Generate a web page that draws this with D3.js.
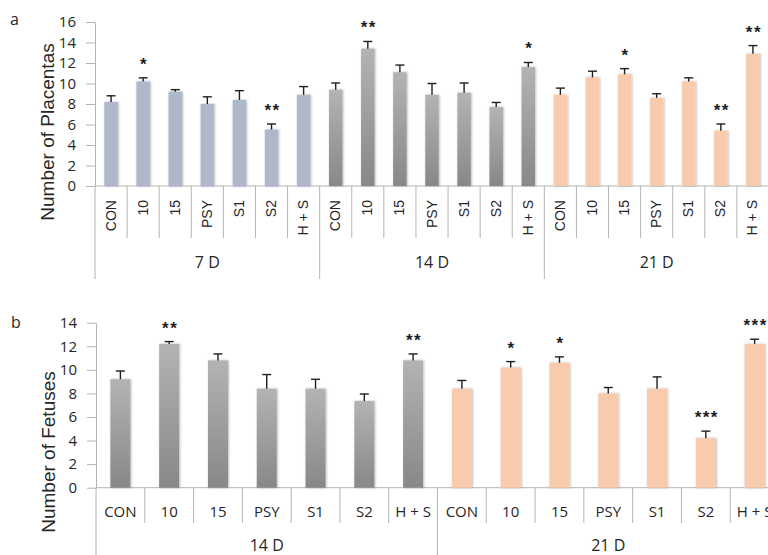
<!DOCTYPE html>
<html>
<head>
<meta charset="utf-8">
<script src="https://cdn.jsdelivr.net/npm/d3@7"></script>
<style>
  html, body { margin: 0; padding: 0; background: #fff; }
  svg { display: block; }
</style>
</head>
<body>
<svg id="chart" width="768" height="555"></svg>
<script>
// ---- data ----
const treatments = ["CON", "10", "15", "PSY", "S1", "S2", "H + S"];

// (a) placentas: 7 D, 14 D, 21 D
const placentaGroups = ["7 D", "14 D", "21 D"];
const placentaMean = [8.2, 10.2, 9.2, 8.0, 8.4, 5.5, 8.9,
                      9.4, 13.4, 11.1, 8.9, 9.1, 7.7, 11.6,
                      8.9, 10.6, 10.9, 8.6, 10.2, 5.4, 12.9];
const placentaErr  = [0.6, 0.35, 0.2, 0.7, 0.9, 0.55, 0.8,
                      0.65, 0.7, 0.7, 1.1, 0.95, 0.45, 0.45,
                      0.65, 0.6, 0.55, 0.4, 0.35, 0.65, 0.8];
const placentaSig  = ["", "*", "", "", "", "**", "",
                      "", "**", "", "", "", "", "*",
                      "", "", "*", "", "", "**", "**"];
const placentaTicks = [0, 2, 4, 6, 8, 10, 12, 14, 16];

// (b) fetuses: 14 D, 21 D
const fetusGroups = ["14 D", "21 D"];
const fetusMean = [9.2, 12.2, 10.8, 8.4, 8.4, 7.35, 10.8,
                   8.4, 10.2, 10.6, 8.0, 8.4, 4.2, 12.2];
const fetusErr  = [0.7, 0.2, 0.55, 1.2, 0.8, 0.6, 0.55,
                   0.7, 0.5, 0.5, 0.5, 1.0, 0.6, 0.4];
const fetusSig  = ["", "**", "", "", "", "", "**",
                   "", "*", "*", "", "", "***", "***"];
const fetusTicks = [0, 2, 4, 6, 8, 10, 12, 14];

// ---- styles ----
const groupFill = {
  "7 D": "#adb9ca",
  "14 D": "url(#greyGrad)",
  "21 D": "#f8cbad"
};
const axisColor = "#b4b4b4";
const textColor = "#262626";
const uiFont = "'Open Sans', 'Liberation Sans', sans-serif";
const rotFont = "'Liberation Sans', Arial, sans-serif";

const svg = d3.select("#chart");
const defs = svg.append("defs");
const grad = defs.append("linearGradient").attr("id", "greyGrad")
  .attr("x1", 0).attr("y1", 0).attr("x2", 0).attr("y2", 1);
grad.append("stop").attr("offset", "0%").attr("stop-color", "#b3b3b3");
grad.append("stop").attr("offset", "100%").attr("stop-color", "#888888");

const shadow = defs.append("filter").attr("id", "soft")
  .attr("x", "-40%").attr("y", "-10%").attr("width", "180%").attr("height", "120%");
shadow.append("feDropShadow").attr("dx", 0.8).attr("dy", 0)
  .attr("stdDeviation", 1.1).attr("flood-color", "#000").attr("flood-opacity", 0.3);

function drawPanel(cfg) {
  const n = cfg.mean.length;
  const perGroup = treatments.length;
  const rows = d3.range(n).map(i => ({
    id: i,
    group: cfg.groups[Math.floor(i / perGroup)],
    treatment: treatments[i % perGroup],
    mean: cfg.mean[i],
    err: cfg.err[i],
    sig: cfg.sig[i]
  }));

  const slot = d3.scaleBand().domain(d3.range(n)).range([cfg.x0, cfg.x1]).padding(0);
  const bar = d3.scaleBand().domain(d3.range(n)).range([cfg.x0, cfg.x1])
    .paddingInner(cfg.gap).paddingOuter(cfg.gap / 2);
  const y = d3.scaleLinear().domain([0, cfg.yMax]).range([cfg.yBase, cfg.yTop]);

  const g = svg.append("g");

  // y axis
  const yAxis = d3.axisLeft(y).tickValues(cfg.ticks).tickSize(9).tickSizeOuter(0).tickPadding(10);
  const ya = g.append("g").attr("transform", `translate(${cfg.x0},0)`).call(yAxis);
  ya.select(".domain").attr("stroke", axisColor);
  ya.selectAll(".tick line").attr("stroke", axisColor);
  ya.selectAll(".tick text").attr("fill", textColor)
    .style("font-family", uiFont).style("font-size", "15px");

  // x axis line
  g.append("line").attr("x1", cfg.x0).attr("x2", cfg.x1)
    .attr("y1", cfg.yBase).attr("y2", cfg.yBase)
    .attr("stroke", axisColor);

  // category separators
  const inner = d3.range(1, n).filter(i => i % perGroup !== 0);
  g.selectAll(".sep").data(inner).join("line")
    .attr("x1", i => slot(i)).attr("x2", i => slot(i))
    .attr("y1", cfg.yBase).attr("y2", cfg.sepBottom)
    .attr("stroke", axisColor);

  // group separators
  const groupEdges = d3.range(0, n + 1, perGroup);
  g.selectAll(".gsep").data(groupEdges).join("line")
    .attr("x1", i => i < n ? slot(i) : cfg.x1).attr("x2", i => i < n ? slot(i) : cfg.x1)
    .attr("y1", cfg.yBase).attr("y2", cfg.groupBottom)
    .attr("stroke", axisColor);

  // bars
  g.selectAll(".bar").data(rows).join("rect")
    .attr("x", d => bar(d.id))
    .attr("width", bar.bandwidth())
    .attr("y", d => y(d.mean))
    .attr("height", d => y(0) - y(d.mean))
    .attr("fill", d => groupFill[d.group])
    .attr("filter", "url(#soft)");

  // error bars
  const cx = d => bar(d.id) + bar.bandwidth() / 2;
  const eb = g.selectAll(".err").data(rows).join("g");
  eb.append("line")
    .attr("x1", cx).attr("x2", cx)
    .attr("y1", d => y(d.mean)).attr("y2", d => y(d.mean + d.err))
    .attr("stroke", "#1e1e1e").attr("stroke-width", 1.4);
  eb.append("line")
    .attr("x1", d => cx(d) - cfg.cap / 2).attr("x2", d => cx(d) + cfg.cap / 2)
    .attr("y1", d => y(d.mean + d.err)).attr("y2", d => y(d.mean + d.err))
    .attr("stroke", "#1e1e1e").attr("stroke-width", 1.4);

  // significance marks
  g.selectAll(".sig").data(rows.filter(d => d.sig)).join("text")
    .attr("x", d => cx(d) + 1).attr("y", d => y(d.mean + d.err) - 8)
    .attr("text-anchor", "middle")
    .attr("fill", "#1e1e1e")
    .style("font-family", rotFont).style("font-size", "17px")
    .style("font-weight", "bold")
    .style("letter-spacing", "1.5px")
    .text(d => d.sig);

  // category labels
  const center = d => slot(d.id) + slot.bandwidth() / 2;
  if (cfg.rotated) {
    g.selectAll(".cat").data(rows).join("text")
      .attr("transform", d => `translate(${center(d) + 4.5},${cfg.labelY}) rotate(-90)`)
      .attr("text-anchor", "end")
      .attr("fill", textColor)
      .style("font-family", rotFont).style("font-size", "14px")
      .text(d => d.treatment);
  } else {
    g.selectAll(".cat").data(rows).join("text")
      .attr("x", center).attr("y", cfg.labelY)
      .attr("text-anchor", "middle")
      .attr("fill", textColor)
      .style("font-family", uiFont).style("font-size", "15px")
      .text(d => d.treatment);
  }

  // group labels
  g.selectAll(".grp").data(cfg.groups).join("text")
    .attr("x", (d, k) => {
      const a = slot(k * perGroup);
      const b = (k + 1) * perGroup < n ? slot((k + 1) * perGroup) : cfg.x1;
      return (a + b) / 2;
    })
    .attr("y", cfg.groupLabelY)
    .attr("text-anchor", "middle")
    .attr("fill", textColor)
    .style("font-family", uiFont).style("font-size", "16px")
    .text(d => d);

  // y axis title
  g.append("text")
    .attr("transform", `translate(${cfg.titleX},${cfg.titleY}) rotate(-90)`)
    .attr("text-anchor", "middle")
    .attr("fill", textColor)
    .style("font-family", rotFont).style("font-size", "19px")
    .text(cfg.title);

  // panel letter
  g.append("text")
    .attr("x", cfg.letterX).attr("y", cfg.letterY)
    .attr("fill", textColor)
    .style("font-family", uiFont).style("font-size", "16px")
    .text(cfg.letter);
}

drawPanel({
  groups: placentaGroups, mean: placentaMean, err: placentaErr, sig: placentaSig,
  ticks: placentaTicks, yMax: 16,
  x0: 95, x1: 769, yBase: 186, yTop: 22, gap: 0.58, cap: 9,
  sepBottom: 238, groupBottom: 279, rotated: true, labelY: 200, groupLabelY: 268,
  title: "Number of Placentas", titleX: 54, titleY: 132,
  letter: "a", letterX: 10, letterY: 25
});

drawPanel({
  groups: fetusGroups, mean: fetusMean, err: fetusErr, sig: fetusSig,
  ticks: fetusTicks, yMax: 14,
  x0: 96, x1: 779, yBase: 487.7, yTop: 322.7, gap: 0.59, cap: 9,
  sepBottom: 523, groupBottom: 560, rotated: false, labelY: 517, groupLabelY: 551,
  title: "Number of Fetuses", titleX: 55, titleY: 452,
  letter: "b", letterX: 11, letterY: 328
});
</script>
</body>
</html>
